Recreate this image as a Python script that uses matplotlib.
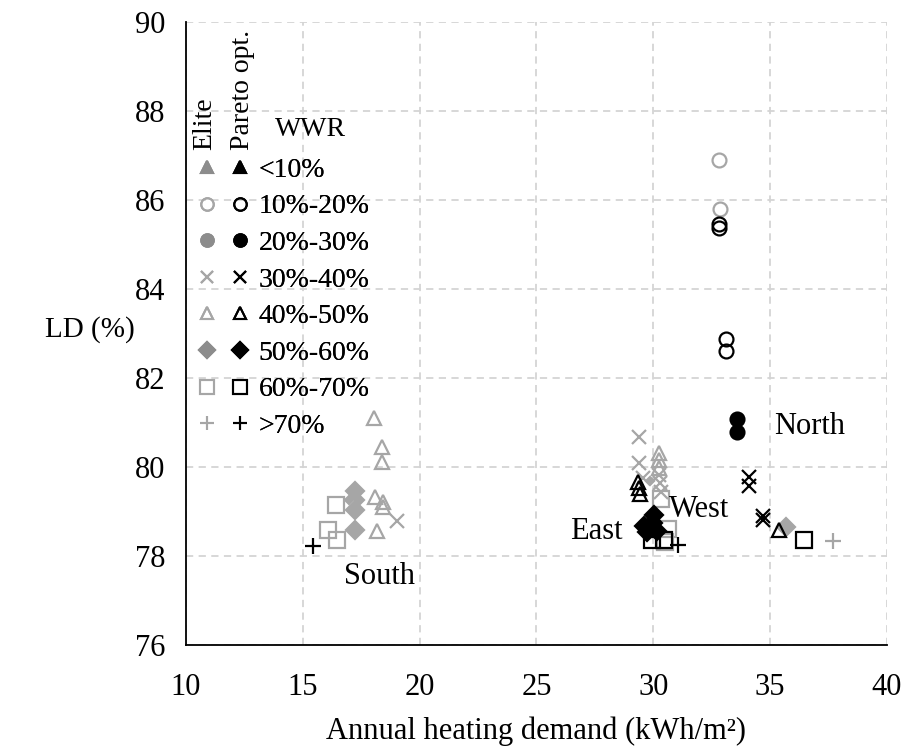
import matplotlib
matplotlib.use("Agg")
import matplotlib.pyplot as plt
from matplotlib.lines import Line2D
from matplotlib.legend_handler import HandlerTuple

plt.rcParams['font.family'] = ['Liberation Serif', 'DejaVu Serif']

# ---------------- data ----------------
# Elite (gray)
elite_circle_x = [32.8, 32.85]
elite_circle_y = [86.9, 85.8]
elite_x_x = [19.05, 29.4, 29.4, 30.25, 30.3, 30.35, 29.55]
elite_x_y = [78.78, 80.67, 80.1, 79.82, 79.64, 79.44, 79.75]
elite_tri_x = [18.03, 18.38, 18.38, 18.08, 18.42, 18.42, 18.16, 30.25, 30.25, 30.25]
elite_tri_y = [81.1, 80.45, 80.11, 79.33, 79.21, 79.1, 78.56, 80.32, 80.16, 79.98]
elite_diamond_x = [17.22, 17.22, 17.22, 35.7]
elite_diamond_y = [79.46, 79.03, 78.58, 78.65]
elite_small_diamond_x = [16.97, 17.44, 29.85]
elite_small_diamond_y = [79.26, 79.26, 79.68]
elite_square_x = [16.41, 16.07, 16.45, 30.35, 30.65, 30.5]
elite_square_y = [79.15, 78.58, 78.36, 79.28, 78.6, 78.32]
elite_plus_x = [37.7]
elite_plus_y = [78.33]

# Pareto optimal (black)
pareto_circle_x = [32.8, 32.8, 33.12, 33.12]
pareto_circle_y = [85.45, 85.36, 82.87, 82.6]
pareto_dot_x = [33.6, 33.6]
pareto_dot_y = [81.08, 80.78]
pareto_x_x = [34.1, 34.1, 34.72, 34.72]
pareto_x_y = [79.78, 79.58, 78.9, 78.8]
pareto_tri_x = [29.35, 29.4, 29.45, 29.95, 35.4]
pareto_tri_y = [79.66, 79.52, 79.4, 78.58, 78.58]
pareto_diamond_x = [30.05, 29.6, 29.75, 30.15, 30.0]
pareto_diamond_y = [78.92, 78.68, 78.55, 78.56, 78.75]
pareto_square_x = [29.95, 30.45, 36.45]
pareto_square_y = [78.35, 78.35, 78.35]
pareto_plus_x = [15.43, 31.05]
pareto_plus_y = [78.22, 78.24]

orient_labels = ["South", "East", "West", "North"]
orient_x = [18.3, 27.55, 31.95, 36.7]
orient_y = [77.55, 78.55, 79.05, 80.9]

wwr_labels = ["<10%", "10%-20%", "20%-30%", "30%-40%", "40%-50%",
              "50%-60%", "60%-70%", ">70%"]

xticks = [10, 15, 20, 25, 30, 35, 40]
yticks = [76, 78, 80, 82, 84, 86, 88, 90]

GRAY = '#a6a6a6'
GRAY_F = '#8c8c8c'
BLACK = '#000000'
FS = 22
LFS = 20

fig = plt.figure(figsize=(9.04, 7.48), dpi=100)
ax = fig.add_axes([0.2058, 0.1377, 0.981 - 0.2058, 0.9706 - 0.1377])

ms = 10
mew = 1.6

def pts(x, y, marker, color, filled, size=ms, zorder=3):
    ax.plot(x, y, linestyle='none', marker=marker, markersize=size,
            markeredgecolor=color, markerfacecolor=color if filled else 'none',
            markeredgewidth=mew, zorder=zorder)

# elite (gray)
pts(elite_circle_x, elite_circle_y, 'o', GRAY, False)
pts(elite_x_x, elite_x_y, 'x', GRAY, False)
pts(elite_tri_x, elite_tri_y, '^', GRAY, False)
pts(elite_diamond_x, elite_diamond_y, 'D', GRAY, True, size=9)
pts(elite_small_diamond_x, elite_small_diamond_y, 'D', GRAY, True, size=4.5)
pts(elite_square_x, elite_square_y, 's', GRAY, False, size=11)
pts(elite_plus_x, elite_plus_y, '+', GRAY, False, size=11)

# pareto (black)
pts(pareto_circle_x, pareto_circle_y, 'o', BLACK, False, zorder=4)
pts(pareto_dot_x, pareto_dot_y, 'o', BLACK, True, zorder=4)
pts(pareto_x_x, pareto_x_y, 'x', BLACK, False, zorder=4)
pts(pareto_tri_x, pareto_tri_y, '^', BLACK, False, zorder=4)
pts(pareto_diamond_x, pareto_diamond_y, 'D', BLACK, True, size=9, zorder=4)
pts(pareto_square_x, pareto_square_y, 's', BLACK, False, size=11, zorder=4)
pts(pareto_plus_x, pareto_plus_y, '+', BLACK, False, size=11, zorder=4)

for lab, x, y in zip(orient_labels, orient_x, orient_y):
    ax.text(x, y, lab, fontsize=FS, ha='center', va='center', zorder=5)

ax.set_xlim(10, 40)
ax.set_ylim(76, 90)
ax.set_xticks(xticks)
ax.set_yticks(yticks)
ax.tick_params(axis='both', length=0, labelsize=FS)
ax.tick_params(axis='y', pad=15)
ax.tick_params(axis='x', pad=20)
ax.grid(True, color='#d4d4d4', linestyle=(0, (4, 3)), linewidth=1.3)
ax.set_axisbelow(True)
for s in ['top', 'right']:
    ax.spines[s].set_visible(False)
for s in ['left', 'bottom']:
    ax.spines[s].set_color('black')
    ax.spines[s].set_linewidth(1.3)

ax.set_xlabel("Annual heating demand (kWh/m²)", fontsize=FS, va='center')
ax.xaxis.set_label_coords(0.5, (645 - 731) / 623)
ax.set_ylabel("LD (%)", fontsize=21, rotation=0, va='center', ha='center')
ax.yaxis.set_label_coords(-0.137, 0.506)

# legend
leg_markers = [('^', True, 9), ('o', False, 9), ('o', True, 9), ('x', False, 9),
               ('^', False, 9), ('D', True, 8), ('s', False, 10), ('+', False, 10)]
handles = []
for (m, filled, s) in leg_markers:
    g = Line2D([], [], linestyle='none', marker=m, markersize=s,
               markeredgecolor=GRAY_F if filled else GRAY,
               markerfacecolor=(GRAY_F if filled else 'none'), markeredgewidth=1.5)
    b = Line2D([], [], linestyle='none', marker=m, markersize=s,
               markeredgecolor=BLACK, markerfacecolor=(BLACK if filled else 'none'),
               markeredgewidth=1.5)
    handles.append((g, b))
leg = ax.legend(handles, wwr_labels, handler_map={tuple: HandlerTuple(ndivide=None, pad=0.39)},
                loc='upper left', bbox_to_anchor=(0.0143, 0.7825), frameon=False,
                fontsize=LFS, handlelength=1.99, handletextpad=0.25, labelspacing=0.4,
                borderaxespad=0, borderpad=0)
ax.add_artist(leg)

ax.text(0.027, 0.795, "Elite", transform=ax.transAxes, rotation=90, fontsize=LFS,
        ha='center', va='bottom')
ax.text(0.081, 0.795, "Pareto opt.", transform=ax.transAxes, rotation=90, fontsize=LFS,
        ha='center', va='bottom')
ax.text(0.127, 0.827, "WWR", transform=ax.transAxes, fontsize=LFS, ha='left', va='center')

fig.savefig("out.png", dpi=100)
